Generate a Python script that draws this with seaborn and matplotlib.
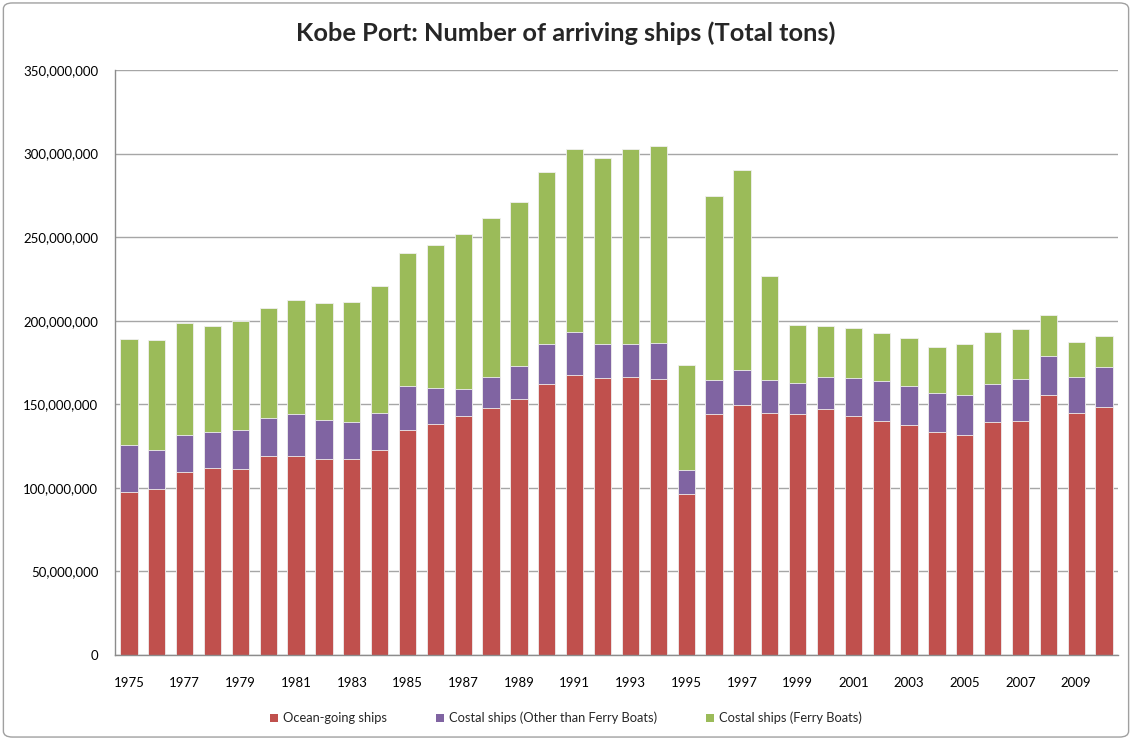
import matplotlib
matplotlib.use("Agg")
import matplotlib.pyplot as plt
import seaborn as sns
import pandas as pd
import numpy as np
from matplotlib.patches import Patch, FancyBboxPatch
from matplotlib.ticker import StrMethodFormatter, MultipleLocator

years = [str(y) for y in range(1975, 2011)]

ocean_going = [97.7, 99.1, 109.7, 111.7, 111.1, 119.3, 119.3, 117.1, 117.1, 122.9,
               134.6, 138.2, 143.0, 148.0, 153.4, 162.4, 167.7, 166.0, 166.4, 165.2,
               96.5, 144.4, 149.8, 144.8, 144.4, 147.0, 143.0, 140.0, 137.5, 133.3,
               131.9, 139.4, 140.0, 155.4, 144.8, 148.4]
costal_other = [28.0, 23.8, 22.2, 21.6, 23.5, 22.3, 25.1, 23.7, 22.3, 22.1,
                26.4, 21.4, 16.0, 18.4, 19.4, 23.5, 25.8, 19.9, 19.5, 21.5,
                14.1, 20.2, 20.9, 19.8, 18.6, 19.5, 22.9, 23.8, 23.5, 23.5,
                23.7, 23.0, 25.2, 23.5, 21.7, 23.8]
costal_ferry = [63.6, 65.8, 66.6, 63.8, 65.3, 65.9, 67.9, 69.5, 71.7, 75.6,
                79.6, 85.8, 92.7, 94.8, 98.3, 103.1, 109.3, 111.5, 116.9, 117.7,
                62.8, 109.9, 119.7, 62.2, 34.7, 30.6, 29.8, 29.1, 28.5, 27.7,
                30.3, 31.1, 29.7, 24.4, 20.8, 18.5]
scale = 1_000_000

labels = ["Ocean-going ships", "Costal ships (Other than Ferry Boats)", "Costal ships (Ferry Boats)"]
colors = ["#C0504D", "#8064A2", "#9BBB59"]

df = pd.DataFrame({
    "year": years,
    "ocean": np.array(ocean_going) * scale,
    "other": np.array(costal_other) * scale,
    "ferry": np.array(costal_ferry) * scale,
})
df["lvl1"] = df["ocean"]
df["lvl2"] = df["ocean"] + df["other"]
df["lvl3"] = df["lvl2"] + df["ferry"]

sns.set_theme(style="white")
plt.rcParams["font.family"] = ["Lato", "DejaVu Sans"]

W, H = 1132, 740
fig = plt.figure(figsize=(W / 100, H / 100), dpi=100)
ax = fig.add_axes([115 / W, 1 - 655 / H, (1118 - 115) / W, (655 - 70) / H])

for col, c in zip(["lvl3", "lvl2", "lvl1"], [colors[2], colors[1], colors[0]]):
    sns.barplot(data=df, x="year", y=col, color=c, saturation=1, width=0.62,
                edgecolor="#f0f0f0", linewidth=0.6, ax=ax, order=years)

ax.set_ylim(0, 350_000_000)
ax.set_xlim(-0.5, len(years) - 0.5)
ax.yaxis.set_major_locator(MultipleLocator(50_000_000))
ax.yaxis.set_major_formatter(StrMethodFormatter("{x:,.0f}"))
ax.grid(axis="y", color="#a6a6a6", linewidth=1.0)
ax.set_axisbelow(True)
ax.set_xlabel("")
ax.set_ylabel("")

ax.set_xticks(range(0, len(years), 2))
ax.set_xticklabels(years[::2])
ax.tick_params(axis="both", labelsize=9.5, colors="#000000", length=0)
ax.tick_params(axis="x", pad=16)
ax.tick_params(axis="y", pad=12)
for s in ["top", "right"]:
    ax.spines[s].set_visible(False)
for s in ["left", "bottom"]:
    ax.spines[s].set_color("#8c8c8c")
    ax.spines[s].set_linewidth(1.0)

fig.text(0.5, 1 - 33 / H, "Kobe Port: Number of arriving ships (Total tons)",
         ha="center", va="center", fontsize=18.3, fontweight="bold")

handles = [Patch(facecolor=c, edgecolor="none", label=l) for c, l in zip(colors, labels)]
fig.legend(handles=handles, loc="center", bbox_to_anchor=(0.5, 1 - 718 / H), ncol=3,
           frameon=False, fontsize=9.3, handlelength=0.6, handleheight=0.6,
           columnspacing=3.8, handletextpad=0.4)

fig.patches.append(FancyBboxPatch((0.003, 0.004), 0.994, 0.992, boxstyle="round,pad=0,rounding_size=0.008",
                                  transform=fig.transFigure, facecolor="none",
                                  edgecolor="#a0a0a0", linewidth=1.0))

fig.savefig("out.png", dpi=100)
